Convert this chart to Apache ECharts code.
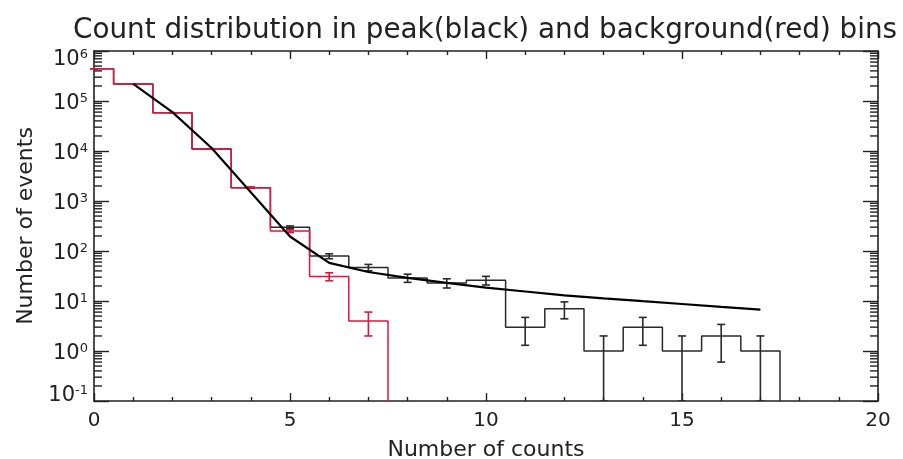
<!DOCTYPE html>
<html><head><meta charset="utf-8">
<script src="https://cdn.jsdelivr.net/npm/echarts@6/dist/echarts.min.js"></script>
<style>html,body{margin:0;padding:0;background:#fff}#c{width:903px;height:459px}</style>
</head><body><div id="c"></div>
<script>
// ---- data ----
const titleText = 'Count distribution in peak(black) and background(red) bins';
const xName = 'Number of counts';
const yName = 'Number of events';
const peakBins = [0,1,2,3,4,5,6,7,8,9,10,11,12,13,14,15,16,17];
const peakCounts = [440000,220000,58000,11000,1850,300,79,47,29,23,26,3,7,1,3,1,2,1];
const peakErr = [660,470,240,105,43,17,8.9,6.9,5.4,4.8,5.1,1.7,2.6,1,1.7,1,1.4,1];
const bgBins = [0,1,2,3,4,5,6,7];
const bgCounts = [440000,220000,58000,11000,1850,250,31,4];
const bgErr = [660,470,240,105,43,16,5.6,2];
const fitX = [1,2,3,4,5,6,7,8,9,10,11,12,13,14,15,16,17];
const fitY = [220000,60000,11500,1500,195,58,38,29,23,18.5,15.5,13,11.3,9.9,8.7,7.6,6.7];
const xMin = 0, xMax = 20, xStep = 5;
const yMin = 0.1, yMax = 1e6;
const logMinorMultipliers = [2,3,4,5,6,7,8,9];
const logMinorExps = [-1,0,1,2,3,4,5];

// ---- build helpers ----
function stepPoints(bins, vals) {
  const pts = [];
  for (let i = 0; i < bins.length; i++) {
    const v = Math.max(vals[i], yMin);
    pts.push([bins[i] - 0.5, v], [bins[i] + 0.5, v]);
  }
  pts.push([bins[bins.length - 1] + 0.5, yMin]);
  return pts;
}
function errData(bins, vals, errs) {
  return bins.map((b, i) => [b, Math.max(vals[i] - errs[i], yMin), vals[i] + errs[i]]);
}
const minorVals = [];
logMinorExps.forEach(e => logMinorMultipliers.forEach(m => minorVals.push([m * Math.pow(10, e)])));

const RED = '#e0143e', DARK = '#2a2a2a';
const ink = '#222';
const FONT = 'DejaVu Sans';

function errRender(color) {
  return function (params, api) {
    const x = api.value(0), lo = api.value(1), hi = api.value(2);
    const pLo = api.coord([x, lo]), pHi = api.coord([x, hi]);
    const w = 4;
    const st = { stroke: color, lineWidth: 1.6 };
    return { type: 'group', children: [
      { type: 'line', shape: { x1: pLo[0], y1: pLo[1], x2: pHi[0], y2: pHi[1] }, style: st },
      { type: 'line', shape: { x1: pLo[0] - w, y1: pLo[1], x2: pLo[0] + w, y2: pLo[1] }, style: st },
      { type: 'line', shape: { x1: pHi[0] - w, y1: pHi[1], x2: pHi[0] + w, y2: pHi[1] }, style: st }
    ]};
  };
}

const chart = echarts.init(document.getElementById('c'), null, { renderer: 'canvas' });
const commonX = {
  type: 'value', min: xMin, max: xMax, interval: xStep,
  axisLine: { show: true, onZero: false, lineStyle: { color: ink, width: 1.6 } },
  axisTick: { show: true, inside: true, length: 8, lineStyle: { color: ink, width: 1.4 } },
  minorTick: { show: true, splitNumber: 5, length: 4, lineStyle: { color: ink, width: 1.4 } },
  splitLine: { show: false }, minorSplitLine: { show: false }
};
const commonY = {
  type: 'log', logBase: 10, min: yMin, max: yMax, interval: 1,
  axisLine: { show: true, onZero: false, lineStyle: { color: ink, width: 1.6 } },
  axisTick: { show: true, inside: true, length: 15, lineStyle: { color: ink, width: 1.4 } },
  splitLine: { show: false }
};
function yLabel(v) {
  const e = Math.round(Math.log10(v));
  const core = '{b|10}{s|' + e + '}';
  if (e === -1) return core + '\n{gb| }';
  if (e === 6) return '{gt6| }\n' + core;
  return '{gt| }\n' + core;
}

chart.setOption({
  animation: false,
  backgroundColor: '#fff',
  grid: { left: 94, right: 25, top: 51, bottom: 58, containLabel: false, outerBoundsMode: 'none' },
  graphic: [{
    type: 'text', left: 73, top: 17,
    style: { text: titleText, fontSize: 27.8, fontFamily: FONT, fill: ink }
  }],
  xAxis: [
    Object.assign({}, commonX, {
      position: 'bottom',
      axisLabel: { show: true, fontSize: 20, color: ink, margin: 10, fontFamily: FONT },
      name: xName, nameLocation: 'middle', nameGap: 38,
      nameTextStyle: { fontSize: 22, color: ink, fontFamily: FONT }
    }),
    Object.assign({}, commonX, { position: 'top', axisLabel: { show: false } })
  ],
  yAxis: [
    Object.assign({}, commonY, {
      position: 'left',
      axisLabel: {
        show: true, margin: 6, color: ink, fontFamily: FONT, formatter: yLabel,
        rich: {
          b: { fontSize: 21, lineHeight: 24, color: ink, fontFamily: FONT },
          s: { fontSize: 13, lineHeight: 13, verticalAlign: 'top', color: ink, fontFamily: FONT },
          gb: { fontSize: 6, lineHeight: 10 },
          gt: { fontSize: 6, lineHeight: 6 },
          gt6: { fontSize: 6, lineHeight: 18 }
        }
      },
      name: yName, nameLocation: 'middle', nameGap: 57, nameRotate: 90,
      nameTextStyle: { fontSize: 22, color: ink, fontFamily: FONT }
    }),
    Object.assign({}, commonY, { position: 'right', axisLabel: { show: false } })
  ],
  series: [
    {
      type: 'custom', name: 'logMinor', xAxisIndex: 0, yAxisIndex: 0, silent: true,
      data: minorVals, clip: false,
      renderItem: function (params, api) {
        const v = api.value(0);
        const pL = api.coord([xMin, v]), pR = api.coord([xMax, v]);
        const st = { stroke: ink, lineWidth: 1.4 };
        return { type: 'group', children: [
          { type: 'line', shape: { x1: pL[0], y1: pL[1], x2: pL[0] + 8, y2: pL[1] }, style: st },
          { type: 'line', shape: { x1: pR[0] - 8, y1: pR[1], x2: pR[0], y2: pR[1] }, style: st }
        ]};
      },
      encode: { y: 0 }
    },
    {
      type: 'line', name: 'peak', data: stepPoints(peakBins, peakCounts),
      symbol: 'none', lineStyle: { color: DARK, width: 1.5 }, clip: true, z: 3
    },
    {
      type: 'custom', name: 'peakErr', data: errData(peakBins, peakCounts, peakErr),
      renderItem: errRender(DARK), clip: true, z: 3, encode: { x: 0, y: [1, 2] }
    },
    {
      type: 'line', name: 'bg', data: stepPoints(bgBins, bgCounts),
      symbol: 'none', lineStyle: { color: RED, width: 1.5 }, clip: true, z: 4
    },
    {
      type: 'custom', name: 'bgErr', data: errData(bgBins, bgCounts, bgErr),
      renderItem: errRender(RED), clip: false, z: 4, encode: { x: 0, y: [1, 2] }
    },
    {
      type: 'line', name: 'fit', data: fitX.map((x, i) => [x, fitY[i]]),
      symbol: 'none', lineStyle: { color: '#000', width: 2.2 }, z: 5
    }
  ]
});
</script></body></html>
